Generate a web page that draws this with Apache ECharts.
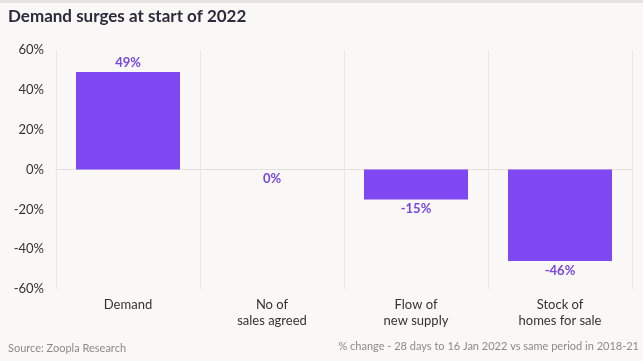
<!DOCTYPE html>
<html><head><meta charset="utf-8">
<script src="https://cdn.jsdelivr.net/npm/echarts@6/dist/echarts.min.js"></script>
<style>html,body{margin:0;padding:0;background:#faf8f7;}#c{width:643px;height:361px;}</style>
</head><body><div id="c"></div>
<script>
const categories = ['Demand', 'No of\nsales agreed', 'Flow of\nnew supply', 'Stock of\nhomes for sale'];
const values = [49, 0, -15, -46];
const yTicks = [-60, -40, -20, 0, 20, 40, 60];
const titleText = 'Demand surges at start of 2022';
const sourceText = 'Source: Zoopla Research';
const noteText = '% change - 28 days to 16 Jan 2022 vs same period in 2018-21';

const font = 'Lato, "Noto Sans", sans-serif';
const chart = echarts.init(document.getElementById('c'));
chart.setOption({
  backgroundColor: '#faf8f7',
  animation: false,
  graphic: [
    {type: 'rect', shape: {x: 0, y: 0, width: 643, height: 3}, style: {fill: '#e6e4e3'}},
    {type: 'text', left: 8, top: 8, style: {text: titleText, font: 'bold 17px ' + font, fill: '#2c2b3c'}},
    {type: 'text', left: 8, top: 343, style: {text: sourceText, font: '11px ' + font, fill: '#8a8a8a'}},
    {type: 'text', right: 4, top: 341, style: {text: noteText, font: '11px ' + font, fill: '#8a8a8a'}}
  ],
  grid: {left: 56, right: 11, top: 50, bottom: 72},
  xAxis: {
    type: 'category', data: categories,
    axisLine: {show: true, onZero: true, lineStyle: {color: '#e3e1e0'}},
    axisTick: {show: false},
    splitLine: {show: true, lineStyle: {color: '#ebe9e8'}},
    axisLabel: {interval: 0, color: '#333', fontSize: 13, fontFamily: font, lineHeight: 16, margin: 8},
    position: 'bottom'
  },
  yAxis: {
    type: 'value', min: -60, max: 60, interval: 20,
    axisLine: {show: false}, axisTick: {show: false},
    splitLine: {show: false},
    axisLabel: {color: '#333', fontSize: 13, fontFamily: font, margin: 12, formatter: v => yTicks.includes(v) ? v + '%' : ''}
  },
  series: [{
    type: 'bar', barWidth: 104,
    itemStyle: {color: '#8048f2'},
    data: values.map(v => ({value: v, label: {position: v > 0 ? 'top' : 'bottom'}})),
    label: {show: true, formatter: p => p.value + '%', color: '#7846dc', fontSize: 13, fontWeight: 'bold', fontFamily: font, distance: 3}
  }]
});
</script></body></html>
